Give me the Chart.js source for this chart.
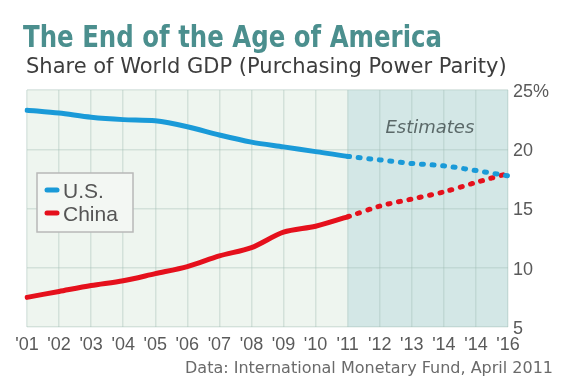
<!DOCTYPE html>
<html>
<head>
<meta charset="utf-8">
<title>The End of the Age of America</title>
<script src="https://cdn.jsdelivr.net/npm/chart.js@4.4.1/dist/chart.umd.min.js"></script>
<style>
  html, body { margin: 0; padding: 0; background: #ffffff; }
  #wrap { width: 570px; height: 380px; }
</style>
</head>
<body>
<div id="wrap"><canvas id="gdpChart" width="570" height="380"></canvas></div>
<script>
// year labels as printed on the original (it really shows '14 twice)
const yearLabels = ["'01", "'02", "'03", "'04", "'05", "'06", "'07", "'08",
                    "'09", "'10", "'11", "'12", "'13", "'14", "'14", "'16"];
// share of world GDP, PPP, in %
const usShare    = [23.3, 23.05, 22.7, 22.5, 22.4, 21.9, 21.2, 20.6, 20.2, 19.8, 19.4, 19.1, 18.8, 18.6, 18.2, 17.75];
const chinaShare = [7.5, 8.0, 8.5, 8.9, 9.5, 10.1, 11.0, 11.7, 13.0, 13.5, 14.3, 15.2, 15.8, 16.4, 17.2, 17.95];
const seriesNames = ["U.S.", "China"];
const yTicks = [5, 10, 15, 20, 25];
const estimateStart = 10; // index of '11, everything after is IMF estimate

const blue = '#1a9ad8';
const red = '#e5101c';

// dotted from the estimate start on
const dotted = ctx => ctx.p0DataIndex >= estimateStart ? [2, 8.6] : undefined;

// shaded history / estimates background
const bandsPlugin = {
    id: 'bands',
    beforeDraw(chart) {
        const { ctx, chartArea: a, scales: { x } } = chart;
        const split = x.getPixelForValue(estimateStart);
        ctx.save();
        ctx.fillStyle = '#eef5ef';
        ctx.fillRect(a.left, a.top, split - a.left, a.bottom - a.top);
        ctx.fillStyle = '#d3e7e6';
        ctx.fillRect(split, a.top, a.right - split, a.bottom - a.top);
        ctx.restore();
    }
};

// titles, footer, "Estimates" and the boxed legend
const textPlugin = {
    id: 'texts',
    afterDraw(chart) {
        const { ctx, chartArea: a, scales: { x } } = chart;
        ctx.save();
        ctx.textBaseline = 'alphabetic';
        ctx.textAlign = 'left';

        ctx.fillStyle = '#4b8f8e';
        ctx.font = 'bold 31px "Liberation Sans Narrow", "DejaVu Sans Condensed", "Liberation Sans", sans-serif';
        ctx.fillText('The End of the Age of America', 23, 47, 419);

        ctx.fillStyle = '#3d3d3d';
        ctx.font = '21px "DejaVu Sans", Verdana, sans-serif';
        ctx.fillText('Share of World GDP (Purchasing Power Parity)', 26, 73, 491);

        ctx.fillStyle = '#6a6a6a';
        ctx.font = '16px "DejaVu Sans", Verdana, sans-serif';
        ctx.textAlign = 'right';
        ctx.fillText('Data: International Monetary Fund, April 2011', 553, 373, 378);

        // Estimates label, centred over the shaded part
        const split = x.getPixelForValue(estimateStart);
        ctx.textAlign = 'center';
        ctx.fillStyle = '#5a6868';
        ctx.font = 'italic 18px "DejaVu Sans", Verdana, sans-serif';
        ctx.fillText('Estimates', (split + a.right) / 2 + 2, 133);

        // legend box
        ctx.fillStyle = '#f3f7f3';
        ctx.strokeStyle = '#b8b8b8';
        ctx.lineWidth = 1.5;
        ctx.fillRect(37, 173, 96, 59);
        ctx.strokeRect(37, 173, 96, 59);
        const rows = [190, 213];
        chart.data.datasets.forEach((ds, i) => {
            ctx.strokeStyle = ds.borderColor;
            ctx.lineWidth = 5;
            ctx.lineCap = 'round';
            ctx.beginPath();
            ctx.moveTo(47, rows[i]);
            ctx.lineTo(57, rows[i]);
            ctx.stroke();
            ctx.fillStyle = '#555555';
            ctx.textAlign = 'left';
            ctx.font = '21px "Liberation Sans", Arial, sans-serif';
            ctx.fillText(ds.label, 63, rows[i] + 7.5);
        });
        ctx.restore();
    }
};

const config = {
    type: 'line',
    data: {
        labels: yearLabels,
        datasets: [{
            label: seriesNames[0],
            data: usShare,
            borderColor: blue,
            backgroundColor: blue,
            borderWidth: 5,
            borderCapStyle: 'round',
            pointRadius: 0,
            tension: 0.3,
            segment: { borderDash: dotted }
        }, {
            label: seriesNames[1],
            data: chinaShare,
            borderColor: red,
            backgroundColor: red,
            borderWidth: 5,
            borderCapStyle: 'round',
            pointRadius: 0,
            tension: 0.3,
            segment: { borderDash: dotted }
        }]
    },
    options: {
        responsive: false,
        animation: false,
        layout: { padding: { left: 27, right: 0, top: 90, bottom: 23 } },
        plugins: {
            legend: { display: false },
            tooltip: { enabled: false },
            title: { display: false }
        },
        scales: {
            x: {
                offset: false,
                grid: { color: 'rgba(160, 190, 180, 0.35)', lineWidth: 1.5, drawTicks: false },
                border: { display: false },
                ticks: {
                    autoSkip: false,
                    maxRotation: 0,
                    padding: 7,
                    color: '#5a5a5a',
                    font: { family: '"Liberation Sans", Arial, sans-serif', size: 18 }
                },
                afterFit: s => { s.height = 30; }
            },
            y: {
                position: 'right',
                min: yTicks[0],
                max: yTicks[yTicks.length - 1],
                afterBuildTicks: s => { s.ticks = yTicks.map(v => ({ value: v })); },
                grid: { color: 'rgba(160, 190, 180, 0.35)', lineWidth: 1.5, drawTicks: false },
                border: { display: false },
                ticks: {
                    padding: 5,
                    labelOffset: 2,
                    color: '#5a5a5a',
                    font: { family: '"Liberation Sans", Arial, sans-serif', size: 18 },
                    callback: v => v === 25 ? '25%' : String(v)
                },
                afterFit: s => { s.width = 62; }
            }
        }
    },
    plugins: [bandsPlugin, textPlugin]
};

new Chart(document.getElementById('gdpChart').getContext('2d'), config);
</script>
</body>
</html>
